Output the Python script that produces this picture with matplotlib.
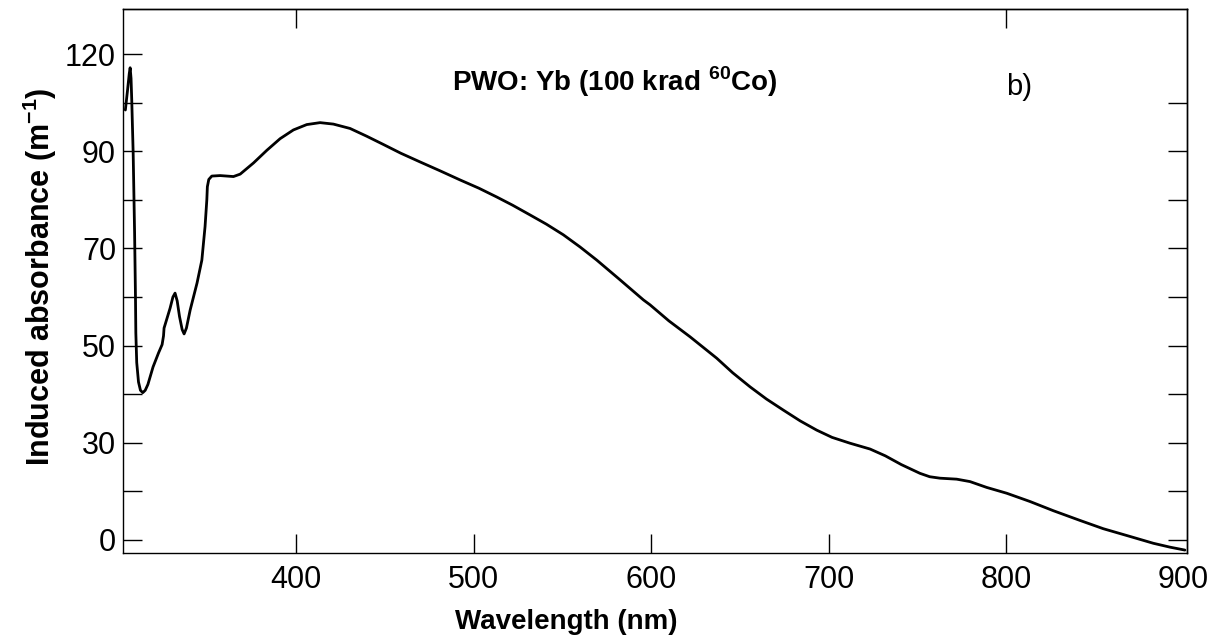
import numpy as np
import matplotlib
matplotlib.use('Agg')
import matplotlib.pyplot as plt

plt.rcParams['font.family'] = ['Liberation Sans', 'DejaVu Sans']
plt.rcParams['mathtext.fontset'] = 'custom'
plt.rcParams['mathtext.rm'] = 'Liberation Sans'
plt.rcParams['mathtext.bf'] = 'Liberation Sans:bold'

# wavelength (nm) and induced absorbance
# (absorbance is in tick-position units: one tick = 10, labelled unevenly)
wavelength = [303.8, 305.0, 306.0, 306.5, 307.0, 307.4, 308.2, 309.0, 309.5, 309.7,
              310.2, 311.2, 312.3, 313.6, 315.0, 316.5, 319.4, 322.5, 324.5, 325.3,
              325.6, 329.0, 330.6, 331.8, 333.0, 334.3, 335.8, 336.9, 338.2, 340.3,
              344.2, 346.9, 348.7, 349.7, 350.0, 350.8, 352.5, 357.2, 364.7, 368.5,
              376.0, 383.5, 391.0, 398.5, 406.0, 413.5, 421.0, 430.4, 439.8, 449.2,
              459.0, 469.9, 481.0, 492.4, 503.0, 513.0, 522.0, 531.8, 541.0, 550.6,
              560.0, 569.4, 582.0, 595.7, 599.4, 610.0, 622.0, 637.0, 646.0, 655.8,
              665.0, 674.6, 684.0, 693.3, 702.0, 712.1, 723.4, 732.0, 741.0, 751.5,
              757.0, 762.8, 772.2, 779.7, 789.1, 800.4, 813.5, 826.7, 841.7, 854.8,
              869.9, 883.0, 892.4, 900.8]
absorbance = [88.5, 92.5, 96.0, 97.2, 95.0, 90.5, 79.6, 63.2, 50.0, 42.6,
              36.5, 32.5, 30.8, 30.3, 30.8, 32.0, 35.6, 38.5, 40.2, 42.0,
              43.6, 47.7, 50.0, 50.8, 49.2, 46.0, 43.3, 42.4, 43.6, 47.3,
              52.9, 57.6, 64.5, 70.0, 72.7, 74.2, 74.9, 75.0, 74.8, 75.3,
              77.6, 80.2, 82.6, 84.4, 85.5, 85.9, 85.6, 84.7, 83.1, 81.4,
              79.6, 77.8, 76.0, 74.1, 72.4, 70.6, 68.9, 66.9, 65.0, 62.8,
              60.3, 57.6, 53.7, 49.4, 48.4, 45.1, 41.8, 37.4, 34.4, 31.5,
              29.0, 26.7, 24.5, 22.6, 21.1, 19.9, 18.7, 17.3, 15.5, 13.7,
              13.0, 12.7, 12.5, 12.0, 10.8, 9.6, 7.9, 6.0, 4.0, 2.3,
              0.7, -0.7, -1.5, -2.1]

xticks = [400, 500, 600, 700, 800, 900]
yticks = [0, 10, 20, 30, 40, 50, 60, 70, 80, 90, 100]
ylabels = ['0', '', '30', '', '50', '', '70', '', '90', '', '120']
top_ticks = [400, 800]
right_ticks = [0, 10, 20, 30, 40, 50, 60, 70, 80, 90]

fig = plt.figure(figsize=(12.22, 6.41), dpi=100)
ax = fig.add_axes([0.1007, 0.1373, 0.8707, 0.8487])

ax.plot(wavelength, absorbance, color='black', lw=2.0,
        solid_joinstyle='round', solid_capstyle='round')

ax.set_xlim(302.5, 902)
ax.set_ylim(-2.7, 109.3)

ax.set_xticks(xticks)
ax.set_xticklabels([str(t) for t in xticks])
ax.set_yticks(yticks)
ax.set_yticklabels(ylabels)
ax.tick_params(direction='in', length=13.5, width=1.0, labelsize=22, color='black')
ax.tick_params(axis='x', pad=9)
ax.tick_params(axis='y', pad=5)
# no tick mark drawn at 900 on the bottom axis
ax.xaxis.get_major_ticks()[-1].tick1line.set_visible(False)

top = ax.secondary_xaxis('top')
top.set_xticks(top_ticks)
top.tick_params(direction='in', length=13.5, width=1.0, labeltop=False)
right = ax.secondary_yaxis('right')
right.set_yticks(right_ticks)
right.tick_params(direction='in', length=13.5, width=1.0, labelright=False)

for sp in list(ax.spines.values()) + [top.spines['top'], right.spines['right']]:
    sp.set_linewidth(1.0)

ax.set_xlabel('Wavelength (nm)', fontsize=20, fontweight='bold')
ax.xaxis.set_label_coords(0.417, -0.127)
ax.xaxis.label.set_va('center')
ax.set_ylabel(r'Induced absorbance (m$^{\mathbf{-1}}$)', fontsize=22, fontweight='bold')
ax.yaxis.set_label_coords(-0.078, 0.507)
ax.yaxis.label.set_va('center')

ax.text(0.462, 0.866, r'PWO: Yb (100 krad $^{\mathbf{60}}$Co)', transform=ax.transAxes,
        ha='center', va='center', fontsize=20, fontweight='bold')
ax.text(0.842, 0.857, 'b)', transform=ax.transAxes, ha='center', va='center', fontsize=21)

fig.savefig('out.png', dpi=100)
